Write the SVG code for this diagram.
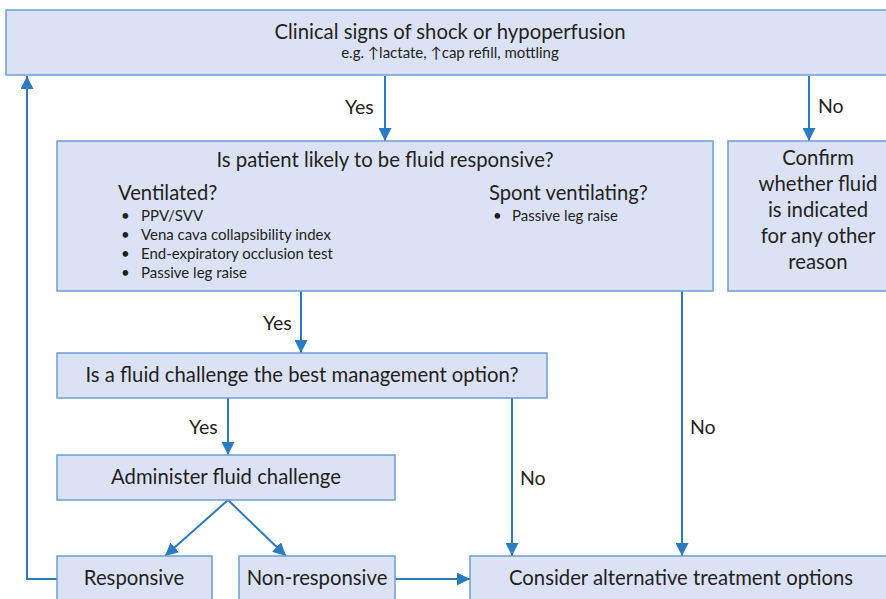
<svg xmlns="http://www.w3.org/2000/svg" width="886" height="599" viewBox="0 0 886 599">
  <style>
    .box { fill: #dce2f6; stroke: #6a9fd6; stroke-width: 1.5; }
    .t { font-family: Lato, "Liberation Sans", sans-serif; fill: #231f20; }
    .h { font-size: 20.3px; text-anchor: middle; }
    .s { font-size: 15px; }
    .lbl { font-size: 19.5px; }
    .sub { font-size: 20.2px; }
    .line { fill: none; stroke: #2a7bc1; stroke-width: 2; }
  </style>
  <defs>
    <marker id="arr" viewBox="0 0 12 12" refX="12" refY="6" markerWidth="13" markerHeight="13" markerUnits="userSpaceOnUse" orient="auto">
      <path d="M0,0 L12,6 L0,12 z" fill="#2a7bc1"/>
    </marker>
  </defs>

  <rect width="886" height="599" fill="#ffffff"/>

  <!-- connectors -->
  <g id="connectors">
    <path class="line" d="M385,76 V141" marker-end="url(#arr)"/>
    <path class="line" d="M809,76 V141" marker-end="url(#arr)"/>
    <path class="line" d="M301,291 V353" marker-end="url(#arr)"/>
    <path class="line" d="M682,291 V556" marker-end="url(#arr)"/>
    <path class="line" d="M228,398 V455" marker-end="url(#arr)"/>
    <path class="line" d="M512,398 V556" marker-end="url(#arr)"/>
    <path class="line" d="M228,500 L165,556" marker-end="url(#arr)"/>
    <path class="line" d="M228,500 L286,556" marker-end="url(#arr)"/>
    <path class="line" d="M395,579 H470" marker-end="url(#arr)"/>
    <path class="line" d="M57,579 H27 V76" marker-end="url(#arr)"/>
    <text class="t lbl" x="345" y="114">Yes</text>
    <text class="t lbl" x="818" y="113">No</text>
    <text class="t lbl" x="263" y="330">Yes</text>
    <text class="t lbl" x="690" y="434">No</text>
    <text class="t lbl" x="189" y="434">Yes</text>
    <text class="t lbl" x="520" y="485">No</text>
  </g>

  <g id="shock">
    <rect class="box" x="6" y="10" width="890" height="65"/>
    <text class="t h" x="450" y="39">Clinical signs of shock or hypoperfusion</text>
    <text class="t" x="450" y="58" font-size="15" text-anchor="middle">e.g. ↑lactate, ↑cap refill, mottling</text>
  </g>

  <g id="responsive-q">
    <rect class="box" x="57" y="141" width="656" height="150"/>
    <text class="t h" x="385" y="167">Is patient likely to be fluid responsive?</text>
    <text class="t sub" x="118" y="200">Ventilated?</text>
    <text class="t sub" x="489" y="200">Spont ventilating?</text>
    <g class="t s">
      <text x="121" y="221">•</text><text x="141" y="221">PPV/SVV</text>
      <text x="121" y="240">•</text><text x="141" y="240">Vena cava collapsibility index</text>
      <text x="121" y="259">•</text><text x="141" y="259">End-expiratory occlusion test</text>
      <text x="121" y="278">•</text><text x="141" y="278">Passive leg raise</text>
      <text x="493" y="221">•</text><text x="512" y="221">Passive leg raise</text>
    </g>
  </g>

  <g id="confirm">
    <rect class="box" x="728" y="141" width="170" height="150"/>
    <g class="t h">
      <text x="818" y="165">Confirm</text>
      <text x="818" y="191">whether fluid</text>
      <text x="818" y="217">is indicated</text>
      <text x="818" y="243">for any other</text>
      <text x="818" y="269">reason</text>
    </g>
  </g>

  <g id="best-option">
    <rect class="box" x="57" y="353" width="490" height="45"/>
    <text class="t h" x="302" y="382">Is a fluid challenge the best management option?</text>
  </g>

  <g id="administer">
    <rect class="box" x="57" y="455" width="338" height="45"/>
    <text class="t h" x="226" y="484">Administer fluid challenge</text>
  </g>

  <g id="responsive">
    <rect class="box" x="57" y="556" width="155" height="60"/>
    <text class="t h" x="134" y="585">Responsive</text>
  </g>

  <g id="non-responsive">
    <rect class="box" x="239" y="556" width="156" height="60"/>
    <text class="t h" x="317" y="585">Non-responsive</text>
  </g>

  <g id="alternative">
    <rect class="box" x="470" y="556" width="430" height="60"/>
    <text class="t h" x="681" y="585">Consider alternative treatment options</text>
  </g>
</svg>
